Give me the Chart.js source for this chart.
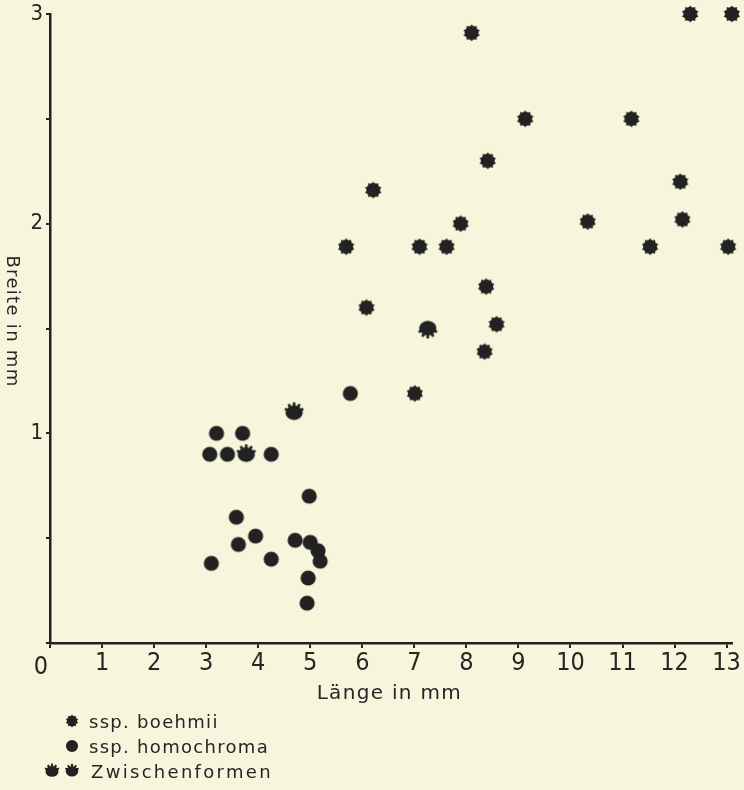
<!DOCTYPE html>
<html><head><meta charset="utf-8">
<script src="https://cdn.jsdelivr.net/npm/chart.js@4.4.0/dist/chart.umd.min.js"></script>
<style>html,body{margin:0;padding:0;background:#f7f5dc;} #wrap{width:744px;height:790px;position:relative;}</style>
</head><body><div id="wrap"><canvas id="c"></canvas></div>
<script>
// ---- data ----
const xTickLabels = ['0','1','2','3','4','5','6','7','8','9','10','11','12','13'];
const yTickLabels = ['', '1', '2', '3'];
const boehmiiX = [8.10, 12.30, 13.10, 9.13, 11.17, 8.41, 6.21, 12.11, 7.89, 10.33, 12.15, 5.69, 7.10, 7.62, 11.53, 13.03, 8.38, 6.08, 8.58, 8.35, 7.01];
const boehmiiY = [2.91, 3.00, 3.00, 2.50, 2.50, 2.30, 2.16, 2.20, 2.00, 2.01, 2.02, 1.89, 1.89, 1.89, 1.89, 1.89, 1.70, 1.60, 1.52, 1.39, 1.19];
const homochromaX = [5.77, 3.20, 3.70, 3.07, 3.41, 4.25, 4.98, 3.58, 3.95, 3.62, 4.71, 5.00, 5.15, 5.19, 3.10, 4.25, 4.96, 4.94];
const homochromaY = [1.19, 1.00, 1.00, 0.90, 0.90, 0.90, 0.70, 0.60, 0.51, 0.47, 0.49, 0.48, 0.44, 0.39, 0.38, 0.40, 0.31, 0.19];
const zwischenX = [4.69, 3.77, 7.26];
const zwischenY = [1.10, 0.90, 1.50];
const legendLabels = ['ssp. boehmii', 'ssp. homochroma', 'Zwischenformen'];
const xTitle = 'Länge in mm';
const yTitle = 'Breite in mm';

// ---- styles ----
const INK = '#222222';
const BG = '#f7f5dc';
const tickFontFamily = "'Liberation Sans Narrow', 'DejaVu Sans Condensed', 'Liberation Sans', sans-serif";
const textFontFamily = "'DejaVu Sans', 'Liberation Sans', sans-serif";

function drawStar(ctx, x, y, s) {
  const n = 10, R = 8.6 * s, r = 6.3 * s;
  ctx.beginPath();
  for (let i = 0; i < 2 * n; i++) {
    const a = -Math.PI / 2 + i * Math.PI / n;
    const rr = i % 2 === 0 ? R : r;
    const px = x + rr * Math.cos(a), py = y + rr * Math.sin(a);
    i === 0 ? ctx.moveTo(px, py) : ctx.lineTo(px, py);
  }
  ctx.closePath();
  ctx.fill();
  ctx.beginPath(); ctx.arc(x, y, r + 0.6 * s, 0, Math.PI * 2); ctx.fill();
}
function drawCircle(ctx, x, y, s) {
  ctx.beginPath(); ctx.arc(x, y, 7.6 * s, 0, Math.PI * 2); ctx.fill();
}
function drawMixed(ctx, x, y, s) {
  ctx.beginPath(); ctx.ellipse(x, y + 0.5 * s, 8.6 * s, 7.2 * s, 0, 0, Math.PI * 2); ctx.fill();
  const angs = [-160, -125, -90, -55, -20];
  for (const d of angs) {
    const a = d * Math.PI / 180, w = 0.17;
    ctx.beginPath();
    ctx.moveTo(x + 6 * s * Math.cos(a - w * 1.6), y + 6 * s * Math.sin(a - w * 1.6));
    ctx.lineTo(x + 10 * s * Math.cos(a - w * 0.7), y + 10 * s * Math.sin(a - w * 0.7));
    ctx.lineTo(x + 10 * s * Math.cos(a + w * 0.7), y + 10 * s * Math.sin(a + w * 0.7));
    ctx.lineTo(x + 6 * s * Math.cos(a + w * 1.6), y + 6 * s * Math.sin(a + w * 1.6));
    ctx.closePath(); ctx.fill();
  }
}
function makeStyle(fn) {
  const c = document.createElement('canvas');
  c.width = 26; c.height = 26;
  const ctx = c.getContext('2d');
  ctx.fillStyle = INK;
  fn(ctx, 13, 13, 1);
  return c;
}
const starImg = makeStyle(drawStar);
const circImg = makeStyle(drawCircle);
const mixImg = makeStyle(drawMixed);

const toPts = (xs, ys) => xs.map((v, i) => ({ x: v, y: ys[i] }));

const decor = {
  id: 'decor',
  beforeDraw(chart) {
    const ctx = chart.ctx;
    ctx.save(); ctx.fillStyle = BG; ctx.fillRect(0, 0, chart.width, chart.height); ctx.restore();
  },
  afterDraw(chart) {
    const ctx = chart.ctx, xs = chart.scales.x, ys = chart.scales.y;
    ctx.save();
    ctx.fillStyle = '#262626';
    // zero label
    ctx.font = "25px " + tickFontFamily;
    ctx.textAlign = 'center'; ctx.textBaseline = 'alphabetic';
    ctx.fillText(xTickLabels[0], xs.getPixelForValue(0) - 9, ys.getPixelForValue(0) + 31);
    // x title
    ctx.font = "20px " + textFontFamily;
    ctx.letterSpacing = '1.3px';
    ctx.textAlign = 'center';
    ctx.fillText(xTitle, (xs.getPixelForValue(0) + xs.getPixelForValue(13)) / 2 + 1, ys.getPixelForValue(0) + 56);
    // y title
    ctx.save();
    ctx.translate(7, (ys.getPixelForValue(0) + ys.getPixelForValue(3)) / 2 - 7);
    ctx.rotate(Math.PI / 2);
    ctx.font = "18px " + textFontFamily;
    ctx.letterSpacing = '1.3px';
    ctx.textAlign = 'center'; ctx.textBaseline = 'alphabetic';
    ctx.fillText(yTitle, 0, 0);
    ctx.restore();
    // legend
    ctx.font = "18px " + textFontFamily;
    ctx.textAlign = 'left'; ctx.textBaseline = 'alphabetic';
    ctx.letterSpacing = '1.3px';
    const rows = [721, 746, 771];
    ctx.fillStyle = INK;
    drawStar(ctx, 72, rows[0], 0.75);
    drawCircle(ctx, 72, rows[1], 0.8);
    drawMixed(ctx, 52, rows[2], 0.75);
    drawMixed(ctx, 72, rows[2], 0.72);
    ctx.fillStyle = '#262626';
    ctx.fillText(legendLabels[0], 89, rows[0] + 7);
    ctx.fillText(legendLabels[1], 89, rows[1] + 7);
    ctx.letterSpacing = '2.3px';
    ctx.fillText(legendLabels[2], 91, rows[2] + 7);
    ctx.restore();
  }
};

new Chart(document.getElementById('c'), {
  type: 'scatter',
  data: {
    datasets: [
      { label: legendLabels[0], data: toPts(boehmiiX, boehmiiY), pointStyle: starImg, clip: false },
      { label: legendLabels[1], data: toPts(homochromaX, homochromaY), pointStyle: circImg, clip: false },
      { label: legendLabels[2], data: toPts(zwischenX, zwischenY), pointStyle: mixImg, pointRotation: [0, 0, 180], clip: false }
    ]
  },
  options: {
    responsive: true,
    maintainAspectRatio: false,
    animation: false,
    layout: { padding: { left: 0, right: 9, top: 14, bottom: 0 } },
    plugins: { legend: { display: false }, tooltip: { enabled: false } },
    scales: {
      x: {
        type: 'linear', min: 0, max: 13.1, position: 'bottom',
        afterFit: s => { s.height = 147; },
        afterBuildTicks: s => { s.ticks = s.ticks.filter(t => Number.isInteger(t.value)); },
        ticks: {
          stepSize: 1, autoSkip: false, maxRotation: 0, padding: 3, includeBounds: false,
          color: '#262626', font: { family: tickFontFamily, size: 25, lineHeight: 1 },
          callback: v => (v === 0 ? '' : xTickLabels[v])
        },
        grid: { drawOnChartArea: false, drawTicks: true, tickLength: 5, color: INK, lineWidth: 2 },
        border: { display: true, color: INK, width: 2.5 }
      },
      y: {
        type: 'linear', min: 0, max: 3,
        afterFit: s => { s.width = 50; },
        ticks: {
          stepSize: 0.5, autoSkip: false, padding: 3,
          color: '#262626', font: { family: tickFontFamily, size: 22, lineHeight: 1 },
          callback: v => (Number.isInteger(v) ? yTickLabels[v] : '')
        },
        grid: { drawOnChartArea: false, drawTicks: true, tickLength: 4, color: INK, lineWidth: 2 },
        border: { display: true, color: INK, width: 2.5 }
      }
    }
  },
  plugins: [decor]
});
</script>
</body></html>
